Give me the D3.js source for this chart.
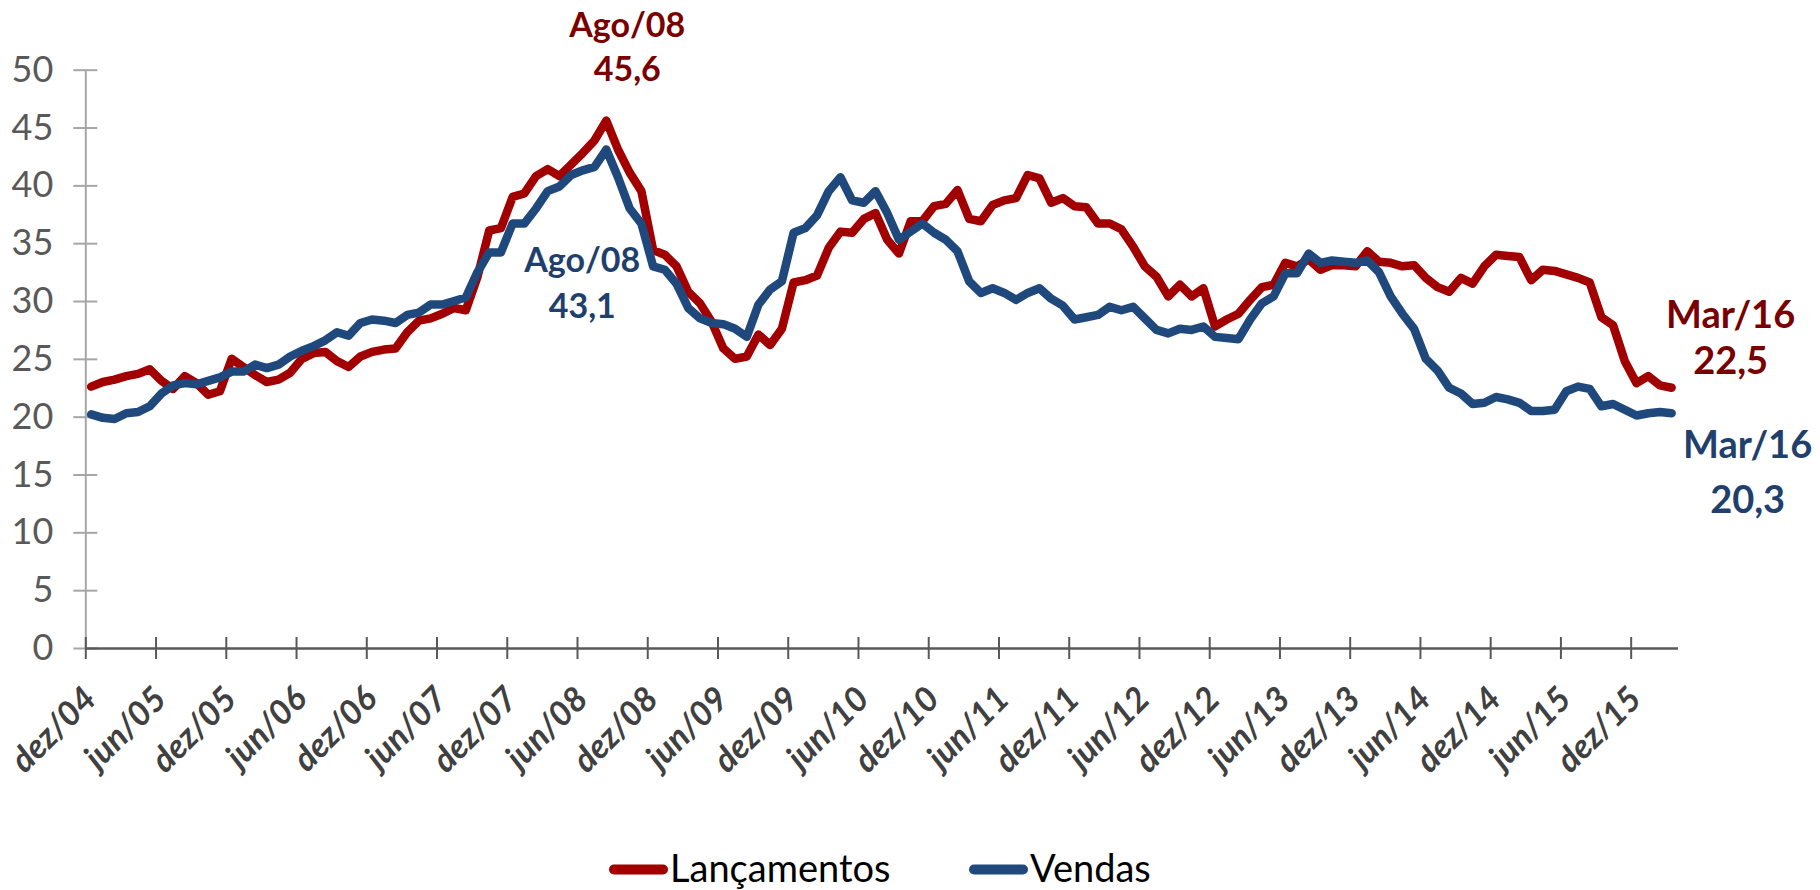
<!DOCTYPE html>
<html>
<head>
<meta charset="utf-8">
<script src="https://cdn.jsdelivr.net/npm/d3@7"></script>
<style>
  body { margin: 0; background: #fff; }
  svg { display: block; font-family: Lato, "Liberation Sans", sans-serif; }
</style>
</head>
<body>
<div id="viz-container"></div>
<script>
// monthly series, dez/04 .. mar/16 (136 months)
let lancamentos = [
  22.6, 23.0, 23.2, 23.5, 23.7, 24.1, 23.1, 22.4, 23.5, 22.9, 21.9, 22.2,
  25.0, 24.3, 23.6, 23.0, 23.2, 23.8, 25.0, 25.5, 25.6, 24.8, 24.3, 25.2,
  25.6, 25.8, 25.9, 27.3, 28.3, 28.5, 28.9, 29.4, 29.2, 32.1, 36.1, 36.3,
  39.0, 39.3, 40.8, 41.4, 40.8, 41.8, 42.8, 43.9, 45.6, 43.1, 41.1, 39.5,
  34.4, 34.0, 33.0, 30.8, 29.8, 28.2, 25.9, 25.0, 25.2, 27.1, 26.2, 27.6,
  31.6, 31.8, 32.2, 34.6, 36.0, 35.9, 37.1, 37.6, 35.3, 34.1, 36.9, 36.9,
  38.2, 38.4, 39.6, 37.1, 36.9, 38.3, 38.7, 38.9, 40.9, 40.6, 38.5, 38.9,
  38.2, 38.1, 36.7, 36.7, 36.2, 34.7, 33.0, 32.1, 30.4, 31.4, 30.4, 31.1,
  27.8, 28.4, 28.9, 30.1, 31.2, 31.4, 33.3, 33.0, 33.6, 32.7, 33.1, 33.1,
  33.0, 34.3, 33.4, 33.3, 33.0, 33.1, 32.0, 31.2, 30.8, 32.0, 31.5, 33.0,
  34.0, 33.9, 33.8, 31.8, 32.7, 32.6, 32.3, 32.0, 31.6, 28.6, 27.9, 24.8,
  22.9, 23.5, 22.7, 22.5
];
let vendas = [
  20.2, 19.9, 19.8, 20.3, 20.4, 20.9, 22.0, 22.7, 22.9, 22.8, 23.1, 23.4,
  23.9, 23.9, 24.5, 24.2, 24.5, 25.2, 25.7, 26.1, 26.6, 27.3, 27.0, 28.1,
  28.4, 28.3, 28.1, 28.8, 29.0, 29.7, 29.7, 30.0, 30.3, 32.5, 34.2, 34.2,
  36.7, 36.7, 38.0, 39.5, 39.9, 40.9, 41.3, 41.6, 43.1, 40.7, 38.0, 36.7,
  33.0, 32.7, 31.5, 29.4, 28.5, 28.1, 28.0, 27.6, 26.9, 29.7, 31.0, 31.7,
  35.9, 36.3, 37.4, 39.5, 40.7, 38.7, 38.5, 39.5, 37.6, 35.3, 36.0, 36.7,
  35.9, 35.3, 34.3, 31.7, 30.7, 31.1, 30.7, 30.1, 30.7, 31.1, 30.2, 29.6,
  28.4, 28.6, 28.8, 29.5, 29.2, 29.5, 28.5, 27.5, 27.2, 27.6, 27.5, 27.8,
  26.9, 26.8, 26.7, 28.4, 29.8, 30.4, 32.4, 32.4, 34.1, 33.3, 33.5, 33.4,
  33.3, 33.5, 32.5, 30.4, 28.9, 27.6, 25.0, 24.0, 22.5, 22.0, 21.1, 21.2,
  21.7, 21.5, 21.2, 20.5, 20.5, 20.6, 22.2, 22.6, 22.4, 20.9, 21.1, 20.6,
  20.1, 20.3, 20.4, 20.3
];
let tickLabels = [
  "dez/04", "jun/05", "dez/05", "jun/06", "dez/06", "jun/07", "dez/07", "jun/08",
  "dez/08", "jun/09", "dez/09", "jun/10", "dez/10", "jun/11", "dez/11", "jun/12",
  "dez/12", "jun/13", "dez/13", "jun/14", "dez/14", "jun/15", "dez/15"
];
let yTicks = [0, 5, 10, 15, 20, 25, 30, 35, 40, 45, 50];
let seriesNames = ["Lançamentos", "Vendas"];

let lineColors = ["#a20000", "#1f497d"];
let textColors = ["#7a0000", "#1f3f6d"];

let viz = d3.select("#viz-container")
  .append("svg")
    .attr("width", 1820)
    .attr("height", 890)
;

let nCat = 137;  // one empty slot after mar/16, like the source axis
let x = d3.scaleLinear().domain([0, nCat - 1]).range([85.3, 1677.5]);
let y = d3.scaleLinear().domain([0, 50]).range([648, 69.7]);
let cx = i => x(i) + (x(1) - x(0)) / 2;

// y axis
let yAxis = viz.append("g")
  .attr("transform", "translate(" + x(0) + ",0)")
  .call(d3.axisLeft(y).tickValues(yTicks).tickSize(0).tickPadding(32));
yAxis.select(".domain").attr("stroke", "#a6a6a6").attr("stroke-width", 2);
yAxis.selectAll(".tick").append("line")
  .attr("x1", -12).attr("x2", 12)
  .attr("stroke", "#a6a6a6").attr("stroke-width", 2);
yAxis.selectAll("text")
  .attr("font-family", "Lato, sans-serif")
  .attr("font-size", 36)
  .attr("fill", "#595959");

// x axis: tick marks at category boundaries
let tickIdx = tickLabels.map((d, k) => k * 6);
let xAxis = viz.append("g")
  .attr("transform", "translate(0," + y(0) + ")")
  .call(d3.axisBottom(x).tickValues(tickIdx).tickSize(0).tickFormat(""));
xAxis.select(".domain").attr("stroke", "#595959").attr("stroke-width", 2.5);
xAxis.selectAll(".tick").append("line")
  .attr("y1", -11).attr("y2", 11)
  .attr("stroke", "#595959").attr("stroke-width", 2);

// x labels, rotated, centred on the category
viz.selectAll(".xLabel").data(tickIdx).enter()
  .append("text")
    .attr("class", "xLabel")
    .attr("transform", d => "translate(" + (cx(d) + 7) + ",701) rotate(-45)")
    .attr("text-anchor", "end")
    .attr("font-size", 34)
    .attr("font-weight", "bold")
    .attr("font-style", "italic")
    .attr("fill", "#404040")
    .text((d, k) => tickLabels[k])
;

// lines
let line = d3.line()
  .x((d, i) => cx(i))
  .y(d => y(d));

[lancamentos, vendas].forEach((s, k) => {
  viz.append("path")
    .datum(s)
    .attr("d", line)
    .attr("fill", "none")
    .attr("stroke", lineColors[k])
    .attr("stroke-width", 8.5)
    .attr("stroke-linejoin", "round")
    .attr("stroke-linecap", "round");
});

// value callouts
let callouts = [
  { s: 0, i: 44, top: "Ago/08", dx: 21, dy: -40, gap: 44, size: 34 },
  { s: 1, i: 44, top: "Ago/08", dx: -24, dy: 168, gap: 46, size: 34 },
  { s: 0, i: 135, top: "Mar/16", dx: 59, dy: -14, gap: 46, size: 38 },
  { s: 1, i: 135, top: "Mar/16", dx: 76, dy: 100, gap: 55, size: 38 }
];
let seriesList = [lancamentos, vendas];
callouts.forEach(c => {
  let v = seriesList[c.s][c.i];
  let px = cx(c.i) + c.dx;
  let py = y(v) + c.dy;
  let g = viz.append("g")
    .attr("font-size", c.size)
    .attr("font-weight", "bold")
    .attr("fill", textColors[c.s])
    .attr("text-anchor", "middle");
  g.append("text").attr("x", px).attr("y", py - c.gap).text(c.top);
  g.append("text").attr("x", px).attr("y", py).text(d3.format(".1f")(v).replace(".", ","));
});

// legend
let legX = [609, 969];
seriesNames.forEach((name, k) => {
  viz.append("line")
    .attr("x1", legX[k] + 5).attr("x2", legX[k] + 54)
    .attr("y1", 869.5).attr("y2", 869.5)
    .attr("stroke", lineColors[k])
    .attr("stroke-width", 10)
    .attr("stroke-linecap", "round");
  viz.append("text")
    .attr("x", legX[k] + 61)
    .attr("y", 882)
    .attr("font-size", 38)
    .attr("fill", "#000")
    .text(name);
});
</script>
</body>
</html>
